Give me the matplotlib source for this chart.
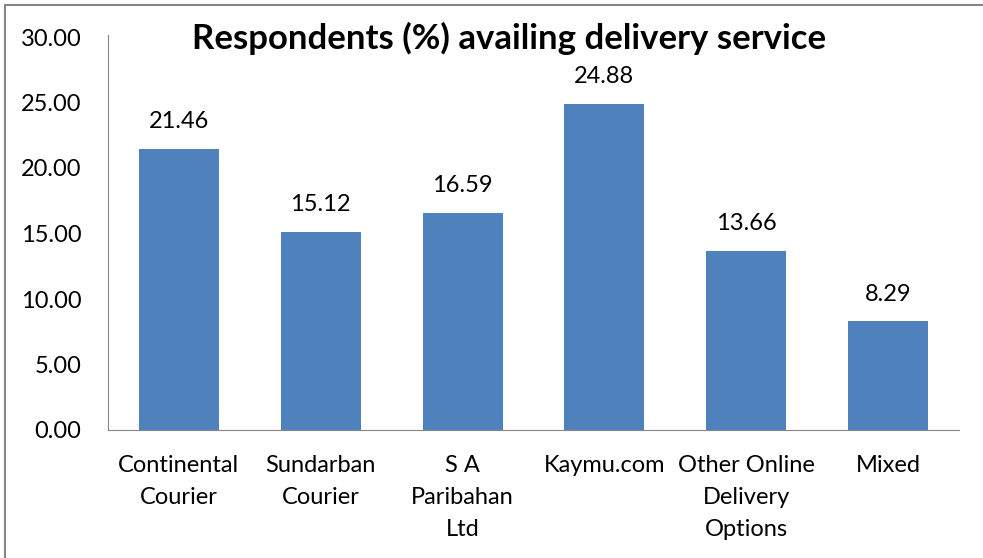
import matplotlib
matplotlib.use("Agg")
import matplotlib.pyplot as plt
from matplotlib.patches import Rectangle

categories = ["Continental\nCourier", "Sundarban\nCourier", "S A\nParibahan\nLtd",
              "Kaymu.com", "Other Online\nDelivery\nOptions", "Mixed"]
values = [21.46, 15.12, 16.59, 24.88, 13.66, 8.29]
yticks = [0, 5, 10, 15, 20, 25, 30]
title = "Respondents (%) availing delivery service"

plt.rcParams['font.family'] = ['Lato', 'DejaVu Sans']

W, H = 983, 558
fig = plt.figure(figsize=(W/100, H/100), dpi=100)
ax = fig.add_axes([108/W, 1-430/H, (959-108)/W, (430-37)/H])

FS = 17
x = list(range(len(values)))
bars = ax.bar(x, values, width=0.565, color="#4F81BD")
ax.set_xlim(-0.5, len(values)-0.5)
ax.set_ylim(0, 30)
ax.set_yticks(yticks)
ax.set_yticklabels([f"{v:.2f}" for v in yticks], fontsize=FS)
ax.set_xticks(x)
ax.set_xticklabels(categories, fontsize=FS, linespacing=1.66, va="top")
ax.tick_params(axis="both", length=0)
ax.tick_params(axis="y", pad=19)
ax.tick_params(axis="x", pad=18)
for s in ["top", "right"]:
    ax.spines[s].set_visible(False)
ax.spines["left"].set_color("#868686")
ax.spines["bottom"].set_color("#868686")
ax.spines["left"].set_bounds(0, 30.15)

for b, v in zip(bars, values):
    ax.annotate(f"{v:.2f}", (b.get_x()+b.get_width()/2, v), xytext=(0, 12),
                textcoords="offset points", ha="center", va="bottom", fontsize=FS)

fig.text(509/W, 1-38/H, title, ha="center", va="center", fontsize=25, fontweight="bold")

fig.patches.append(Rectangle((5/W, -0.1), 1.2, 1-5/H+0.1, transform=fig.transFigure,
                             fill=False, edgecolor="#868686", linewidth=1.5))

fig.savefig("out.png", dpi=100)
